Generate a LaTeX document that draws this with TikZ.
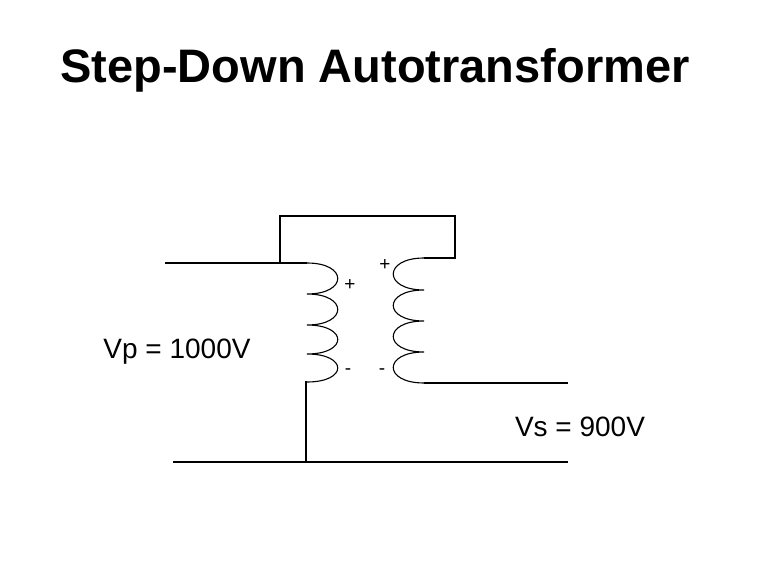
\documentclass[tikz,border=0pt]{standalone}
\usepackage{fontspec}
\setmainfont{Liberation Sans}
\begin{document}
\begin{tikzpicture}[x=1pt,y=-1pt,wire/.style={line width=1.1pt},lbl/.style={font=\fontsize{19}{22}\selectfont}]
\useasboundingbox (0,0) rectangle (763,588);
\node[font=\fontsize{47}{54}\selectfont\bfseries] (title) at (375,70) {Step-Down Autotransformer};
% primary coil
\coordinate (p1) at (307,263);
\coordinate (p5) at (307,382);
\draw[wire] (p1) .. controls (348,263) and (348,294) .. (307,294)
  .. controls (348,294) and (348,325) .. (307,325)
  .. controls (348,325) and (348,354) .. (307,354)
  .. controls (348,354) and (348,382) .. (307,382);
% secondary coil
\coordinate (s1) at (424,258);
\coordinate (s5) at (424,383);
\draw[wire] (s1) .. controls (383,258) and (383,290) .. (424,290)
  .. controls (383,290) and (383,321) .. (424,321)
  .. controls (383,321) and (383,352) .. (424,352)
  .. controls (383,352) and (383,383) .. (424,383);
% wiring
\coordinate (inL) at (165,263);
\coordinate (botL) at (173,462);
\coordinate (botR) at (568,462);
\coordinate (outR) at (568,383);
\coordinate (bj) at (306,462);
\draw[wire] (inL) -- (280,263);
\draw[wire] (280,263) -- (p1);
\draw[wire] (s1) -- (455,258) -- (455,216) -- (280,216) -- (280,263);
\draw[wire] (p5) -- (306,382) -- (bj);
\draw[wire] (botL) -- (botR);
\draw[wire] (s5) -- (outR);
% labels
\node[lbl] (pp) at (350,285) {+};
\node[lbl] (sp) at (385,265) {+};
\node[lbl] (pm) at (348,372) {-};
\node[lbl] (sm) at (382,372) {-};
\node[font=\fontsize{28}{32}\selectfont] (vp) at (177,352) {Vp = 1000V};
\node[font=\fontsize{28}{32}\selectfont] (vs) at (580,427) {Vs = 900V};
\end{tikzpicture}
\end{document}
